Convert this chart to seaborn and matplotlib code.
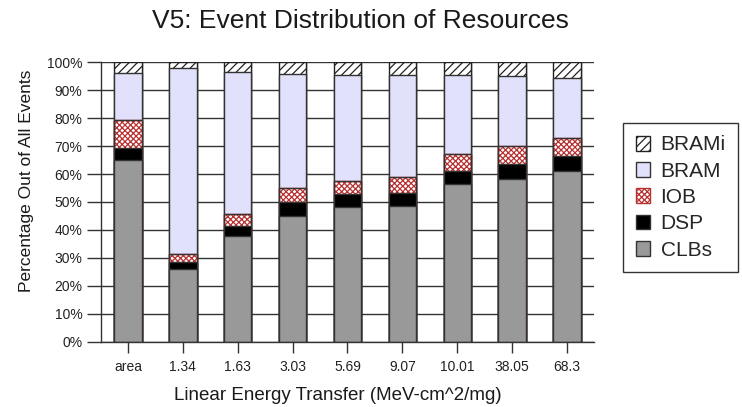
import numpy as np
import pandas as pd
import matplotlib
matplotlib.use("Agg")
import matplotlib.pyplot as plt
import seaborn as sns
from matplotlib.patches import Patch
from matplotlib.ticker import FixedLocator, FuncFormatter

categories = ["area", "1.34", "1.63", "3.03", "5.69", "9.07", "10.01", "38.05", "68.3"]
clbs = [65.0, 25.9, 37.8, 45.1, 48.1, 48.6, 56.4, 58.1, 61.1]
dsp = [4.2, 2.7, 3.6, 5.0, 4.8, 4.7, 4.8, 5.5, 5.5]
iob = [10.1, 2.8, 4.4, 4.8, 4.7, 5.8, 6.0, 6.4, 6.4]
bram = [16.8, 66.7, 50.6, 41.0, 37.9, 36.4, 28.3, 25.1, 21.5]
brami = [3.9, 1.9, 3.6, 4.1, 4.5, 4.5, 4.5, 4.9, 5.5]
series_names = ["CLBs", "DSP", "IOB", "BRAM", "BRAMi"]
yticks = [0, 10, 20, 30, 40, 50, 60, 70, 80, 90, 100]

sns.set_style("white")
plt.rcParams['font.family'] = ['Liberation Sans', 'DejaVu Sans']
plt.rcParams['hatch.linewidth'] = 0.9

df = pd.DataFrame({"cat": categories, "CLBs": clbs, "DSP": dsp,
                   "IOB": iob, "BRAM": bram, "BRAMi": brami})
cum = df[series_names].cumsum(axis=1)

edge = "#333333"
styles = {
    "BRAMi": dict(color="white", hatch="////", edgecolor="#222222"),
    "BRAM": dict(color="#e1e1fb", edgecolor=edge),
    "IOB": dict(color="white", hatch="xxxxxx", edgecolor="#b83030"),
    "DSP": dict(color="black", edgecolor=edge),
    "CLBs": dict(color="#999999", edgecolor=edge),
}

fig = plt.figure(figsize=(7.42, 4.07), dpi=100)
ax = fig.add_axes([100.5 / 742, 1 - 341.7 / 407, 494 / 742, 279.4 / 407])

for name in reversed(series_names):
    st = dict(styles[name])
    col = st.pop("color")
    sns.barplot(x=df["cat"], y=cum[name], order=categories, ax=ax, width=0.5,
                color=col, saturation=1, errorbar=None, linewidth=1, zorder=2, **st)
    if name == "IOB":
        sns.barplot(x=df["cat"], y=cum[name], order=categories, ax=ax, width=0.5,
                    color=edge, fill=False, errorbar=None, linewidth=1, zorder=2)

ax.set_xlim(-0.5, len(categories) - 0.5)
ax.set_ylim(0, 100)
ax.set_yticks(yticks)
ax.yaxis.set_major_formatter(FuncFormatter(lambda v, p: f"{v:.0f}%"))
ax.xaxis.set_minor_locator(FixedLocator(np.arange(len(categories)) + 0.25))
ax.set_axisbelow(True)
ax.grid(True, axis="y", which="major", color=edge, linewidth=1)
ax.grid(True, axis="x", which="minor", color=edge, linewidth=1)
ax.grid(False, axis="x", which="major")
ax.set_xlabel("")
ax.set_ylabel("")

for s in ["top", "right"]:
    ax.spines[s].set_visible(False)
for s in ["left", "bottom"]:
    ax.spines[s].set_color(edge)
    ax.spines[s].set_linewidth(1)

ax.tick_params(axis="y", direction="out", length=10, width=1, color=edge,
               labelsize=10, pad=3, labelcolor="#222222", left=True)
ax.tick_params(axis="x", which="major", direction="out", length=8, width=1,
               color=edge, labelsize=10, pad=5, labelcolor="#222222", bottom=True)
ax.tick_params(axis="x", which="minor", length=0)

fig.text(360 / 742, 1 - 21 / 407, "V5: Event Distribution of Resources",
         ha="center", va="center", fontsize=19, color="#1a1a1a")
fig.text(337.5 / 742, 1 - 396 / 407, "Linear Energy Transfer (MeV-cm^2/mg)",
         ha="center", va="center", fontsize=13.5, color="#1a1a1a")
fig.text(27 / 742, 1 - 181 / 407, "Percentage Out of All Events", rotation=90,
         ha="center", va="center", fontsize=12.5, color="#1a1a1a")

handles = []
labels = []
for name in reversed(series_names):
    st = styles[name]
    handles.append(Patch(facecolor=st["color"], edgecolor=st["edgecolor"],
                         hatch=st.get("hatch"), linewidth=1))
    labels.append(name)
leg = fig.legend(handles, labels, loc="upper left",
                 bbox_to_anchor=(623 / 742, 1 - 123 / 407), fontsize=15,
                 frameon=True, fancybox=False, edgecolor=edge, framealpha=1,
                 handlelength=0.7, handleheight=0.7, handletextpad=0.5,
                 labelspacing=0.35, borderpad=0.6, borderaxespad=0)
leg.get_frame().set_linewidth(1)

fig.savefig("out.png", dpi=100)
